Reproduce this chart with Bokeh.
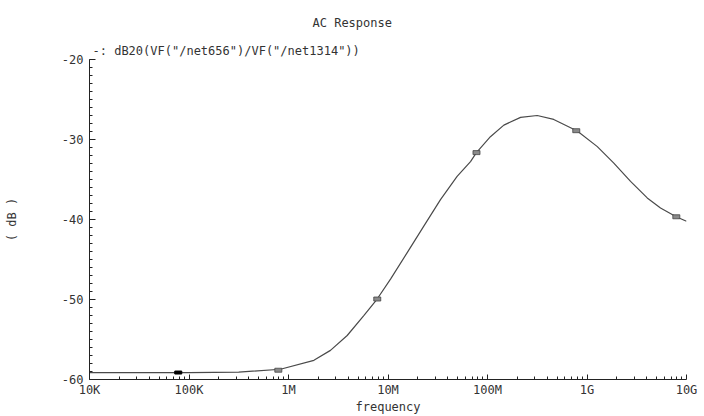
from bokeh.plotting import figure
from bokeh.models import FixedTicker, Title, Range1d
from bokeh.embed import file_html
from bokeh.resources import INLINE

# ---- data ----
freq_hz = [1e4, 1e5, 3.16e5, 8.3e5, 1.8e6, 2.64e6, 3.89e6, 5.71e6, 7.78e6,
           1.06e7, 1.56e7, 2.29e7, 3.37e7, 4.95e7, 6.75e7, 7.74e7, 1.07e8,
           1.46e8, 2.15e8, 3.16e8, 4.63e8, 7.98e8, 1.27e9, 1.86e9, 2.74e9,
           4.03e9, 5.48e9, 7.87e9, 1e10]
gain_db = [-59.13, -59.13, -59.07, -58.72, -57.60, -56.36, -54.50, -52.01, -49.94,
           -47.45, -44.14, -40.83, -37.52, -34.62, -32.76, -31.64, -29.65,
           -28.20, -27.24, -27.00, -27.49, -28.94, -30.89, -32.96, -35.24,
           -37.30, -38.55, -39.66, -40.21]

marker_freq = [7.8e4, 7.9e5, 7.8e6, 7.75e7, 7.8e8, 7.9e9]
marker_db = [-59.13, -58.84, -49.94, -31.64, -28.90, -39.66]

x_ticks = [1e4, 1e5, 1e6, 1e7, 1e8, 1e9, 1e10]
x_tick_labels = ["10K", "100K", "1M", "10M", "100M", "1G", "10G"]
y_ticks = [-60, -50, -40, -30, -20]
y_tick_labels = ["-60", "-50", "-40", "-30", "-20"]

title_text = "AC Response"
legend_text = '-: dB20(VF("/net656")/VF("/net1314"))'
x_label = "frequency"
y_label = "( dB )"

FONT = "DejaVu Sans Mono"
TXT = "#333333"

p = figure(width=704, height=416, x_axis_type="log",
           x_range=Range1d(1e4, 1e10), y_range=Range1d(-60, -20),
           output_backend="svg", toolbar_location=None, title=None,
           min_border_left=89, min_border_right=18,
           min_border_top=59, min_border_bottom=35)
p.outline_line_color = None
p.grid.visible = False
p.background_fill_color = "white"
p.border_fill_color = "white"

p.line(freq_hz, gain_db, line_color="#4a4a4a", line_width=1.2)

p.rect(marker_freq[:1], marker_db[:1], width=7, height=3,
       width_units="screen", height_units="screen",
       fill_color="black", line_color="black")
p.rect(marker_freq[1:], marker_db[1:], width=7, height=4,
       width_units="screen", height_units="screen",
       fill_color="#8a8a8a", line_color="#444444", line_width=0.8)

minor_x = [k * 10 ** e for e in range(4, 10) for k in range(2, 10)]
p.xaxis.ticker = FixedTicker(ticks=x_ticks, minor_ticks=minor_x)
p.xaxis.major_label_overrides = {t: l for t, l in zip(x_ticks, x_tick_labels)}
minor_y = list(range(-60, -19))
p.yaxis.ticker = FixedTicker(ticks=y_ticks, minor_ticks=minor_y)
p.yaxis.major_label_overrides = {t: l for t, l in zip(y_ticks, y_tick_labels)}

for ax in (p.xaxis, p.yaxis):
    ax.axis_line_color = "#222222"
    ax.major_tick_line_color = "#222222"
    ax.minor_tick_line_color = "#222222"
    ax.major_tick_out = 0
    ax.minor_tick_out = 0
    ax.major_label_text_font = FONT
    ax.major_label_text_font_size = "12px"
    ax.major_label_text_color = TXT
    ax.axis_label_text_font = FONT
    ax.axis_label_text_font_size = "12px"
    ax.axis_label_text_font_style = "normal"
    ax.axis_label_text_color = TXT

p.xaxis.major_tick_in = 5
p.xaxis.minor_tick_in = 3
p.yaxis.major_tick_in = 6
p.yaxis.minor_tick_in = 3
p.xaxis.major_label_standoff = 3
p.yaxis.major_label_standoff = 6
p.xaxis.axis_label = x_label
p.xaxis.axis_label_standoff = 0
p.yaxis.axis_label = y_label
p.yaxis.axis_label_standoff = 40

# legend line (closest to the frame), then the chart title above it
p.add_layout(Title(text=legend_text, align="left", offset=3, standoff=3,
                   text_font=FONT, text_font_size="12px",
                   text_font_style="normal", text_color=TXT), "above")
p.add_layout(Title(text=title_text, align="left", offset=223, standoff=22,
                   text_font=FONT, text_font_size="12px",
                   text_font_style="normal", text_color=TXT), "above")

open("out.html", "w").write(file_html(p, INLINE))
